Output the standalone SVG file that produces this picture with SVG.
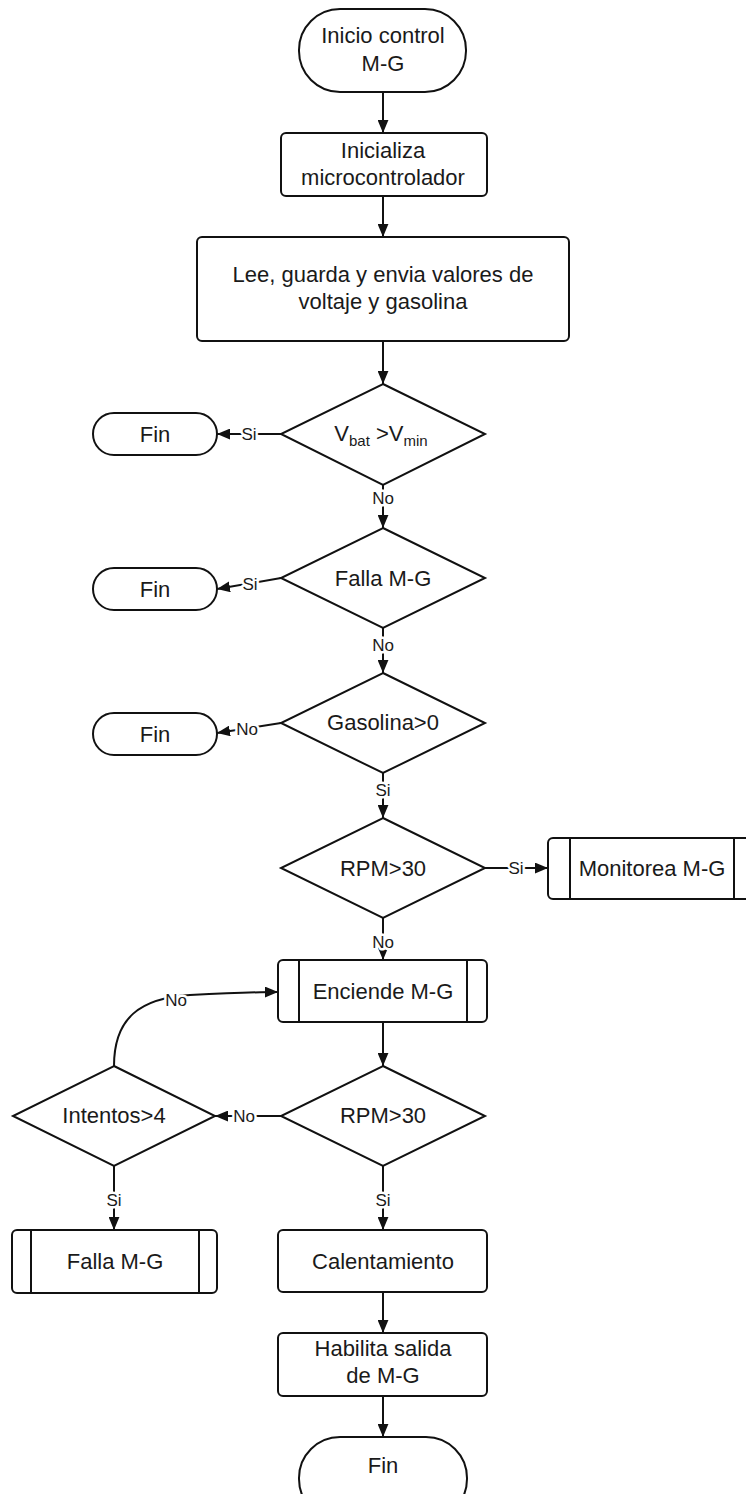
<svg xmlns="http://www.w3.org/2000/svg" width="746" height="1494" viewBox="0 0 746 1494">
<defs>
<marker id="ah" viewBox="0 0 12 10" refX="12" refY="5" markerWidth="13" markerHeight="11" markerUnits="userSpaceOnUse" orient="auto">
<path d="M0,0 L12,5 L0,10 Z" fill="#111"/>
</marker>
<style>
.s{fill:#fff;stroke:#111;stroke-width:2}
.t{font-family:"Liberation Sans",Arial,sans-serif;font-size:22px;fill:#1a1a1a;text-anchor:middle}
.sub{font-size:15px}
.c{fill:none;stroke:#111;stroke-width:2;marker-end:url(#ah)}
.l{font-family:"Liberation Sans",Arial,sans-serif;font-size:17px;fill:#1a1a1a;text-anchor:middle;stroke:#fff;stroke-width:5px;paint-order:stroke;stroke-linejoin:round}
</style>
</defs>
<rect width="746" height="1494" fill="#fff"/>
<g id="connectors">
<path class="c" d="M383,92 V133"/>
<path class="c" d="M383,196 V237"/>
<path class="c" d="M383,341 V384"/>
<path class="c" d="M383,485 V528"/>
<path class="c" d="M383,628 V673"/>
<path class="c" d="M383,773 V818"/>
<path class="c" d="M383,918 V960"/>
<path class="c" d="M383,1022 V1066"/>
<path class="c" d="M383,1166 V1230"/>
<path class="c" d="M383,1292 V1333"/>
<path class="c" d="M383,1396 V1437"/>
<path class="c" d="M114,1166 V1230"/>
<path class="c" d="M281,434 H217"/>
<path class="c" d="M281,578 L217,589"/>
<path class="c" d="M281,723 L217,733"/>
<path class="c" d="M485,868 H548"/>
<path class="c" d="M281,1116 H215"/>
<path class="c" d="M114,1066 C114,1018 140,998 190,995 C230,993 255,992 278,992"/>
<text class="l" x="249" y="440">Si</text>
<text class="l" x="250" y="590">Si</text>
<text class="l" x="247" y="735">No</text>
<text class="l" x="383" y="504">No</text>
<text class="l" x="383" y="651">No</text>
<text class="l" x="383" y="796">Si</text>
<text class="l" x="516" y="874">Si</text>
<text class="l" x="383" y="948">No</text>
<text class="l" x="244" y="1122">No</text>
<text class="l" x="176" y="1006">No</text>
<text class="l" x="383" y="1206">Si</text>
<text class="l" x="114" y="1206">Si</text>
</g>
<g id="inicio">
<rect class="s" x="299" y="9" width="167" height="83" rx="41"/>
<text class="t" x="383" y="43">Inicio control</text>
<text class="t" x="383" y="71">M-G</text>
</g>
<g id="inicializa">
<rect class="s" x="281" y="133" width="206" height="63" rx="5"/>
<text class="t" x="383" y="158">Inicializa</text>
<text class="t" x="383" y="185">microcontrolador</text>
</g>
<g id="lee">
<rect class="s" x="197" y="237" width="372" height="104" rx="5"/>
<text class="t" x="383" y="282">Lee, guarda y envia valores de</text>
<text class="t" x="383" y="309">voltaje y gasolina</text>
</g>
<g id="d-vbat">
<polygon class="s" points="383,384 485,434 383,485 281,434"/>
<text class="t" x="381" y="441">V<tspan class="sub" dy="5">bat</tspan><tspan dy="-5"> &gt;V</tspan><tspan class="sub" dy="5">min</tspan></text>
</g>
<g id="fin1">
<rect class="s" x="93" y="413" width="124" height="42" rx="21"/>
<text class="t" x="155" y="442">Fin</text>
</g>
<g id="d-falla">
<polygon class="s" points="383,528 485,578 383,628 281,578"/>
<text class="t" x="383" y="586">Falla M-G</text>
</g>
<g id="fin2">
<rect class="s" x="93" y="568" width="124" height="42" rx="21"/>
<text class="t" x="155" y="597">Fin</text>
</g>
<g id="d-gasolina">
<polygon class="s" points="383,673 485,723 383,773 281,723"/>
<text class="t" x="383" y="730">Gasolina&gt;0</text>
</g>
<g id="fin3">
<rect class="s" x="93" y="713" width="124" height="42" rx="21"/>
<text class="t" x="155" y="742">Fin</text>
</g>
<g id="d-rpm1">
<polygon class="s" points="383,818 485,868 383,918 281,868"/>
<text class="t" x="383" y="876">RPM&gt;30</text>
</g>
<g id="monitorea">
<rect class="s" x="548" y="838" width="208" height="61" rx="5"/>
<line x1="570" y1="838" x2="570" y2="899" stroke="#111" stroke-width="2"/>
<line x1="734" y1="838" x2="734" y2="899" stroke="#111" stroke-width="2"/>
<text class="t" x="652" y="876">Monitorea M-G</text>
</g>
<g id="enciende">
<rect class="s" x="278" y="960" width="209" height="62" rx="5"/>
<line x1="299" y1="960" x2="299" y2="1022" stroke="#111" stroke-width="2"/>
<line x1="467" y1="960" x2="467" y2="1022" stroke="#111" stroke-width="2"/>
<text class="t" x="383" y="999">Enciende M-G</text>
</g>
<g id="d-rpm2">
<polygon class="s" points="383,1066 485,1116 383,1166 281,1116"/>
<text class="t" x="383" y="1123">RPM&gt;30</text>
</g>
<g id="d-intentos">
<polygon class="s" points="114,1066 215,1116 114,1166 13,1116"/>
<text class="t" x="114" y="1123">Intentos&gt;4</text>
</g>
<g id="falla-box">
<rect class="s" x="12" y="1230" width="205" height="63" rx="5"/>
<line x1="31" y1="1230" x2="31" y2="1293" stroke="#111" stroke-width="2"/>
<line x1="199" y1="1230" x2="199" y2="1293" stroke="#111" stroke-width="2"/>
<text class="t" x="115" y="1269">Falla M-G</text>
</g>
<g id="calentamiento">
<rect class="s" x="278" y="1230" width="209" height="62" rx="5"/>
<text class="t" x="383" y="1269">Calentamiento</text>
</g>
<g id="habilita">
<rect class="s" x="278" y="1333" width="209" height="63" rx="5"/>
<text class="t" x="383" y="1356">Habilita salida</text>
<text class="t" x="383" y="1383">de M-G</text>
</g>
<g id="fin-final">
<rect class="s" x="299" y="1437" width="168" height="83" rx="41"/>
<text class="t" x="383" y="1473">Fin</text>
</g>
</svg>
